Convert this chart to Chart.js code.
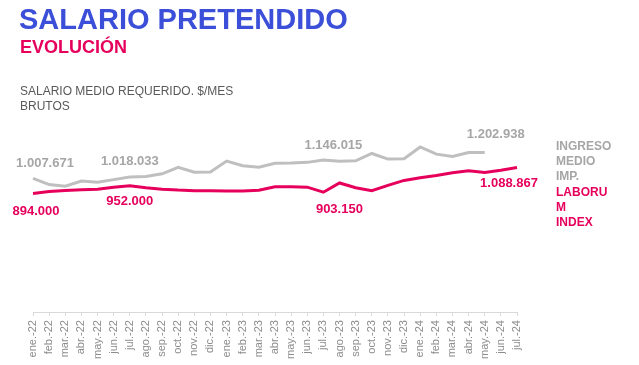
<!DOCTYPE html>
<html lang="es">
<head>
    <meta charset="UTF-8">
    <title>Salario pretendido</title>
    <style>
        body {
            margin: 0;
            background: #ffffff;
            font-family: "Liberation Sans", Arial, sans-serif;
        }
        #wrap {
            position: relative;
            width: 639px;
            height: 365px;
        }
        #chart {
            position: absolute;
            left: 0;
            top: 0;
        }
        .title {
            position: absolute;
            left: 19px;
            top: 3px;
            font-size: 29px;
            font-weight: bold;
            color: #3b4fd8;
        }
        .sub {
            position: absolute;
            left: 20px;
            top: 37px;
            font-size: 18px;
            font-weight: bold;
            color: #e6005c;
        }
        .note {
            position: absolute;
            left: 20px;
            top: 84px;
            font-size: 12px;
            line-height: 15px;
            color: #595959;
        }
        .leg {
            position: absolute;
            left: 556px;
            font-size: 12px;
            font-weight: bold;
            line-height: 15px;
        }
    </style>
</head>
<body>
<div id="wrap">
    <canvas id="chart" width="639" height="365"></canvas>
    <div class="title">SALARIO PRETENDIDO</div>
    <div class="sub">EVOLUCIÓN</div>
    <div class="note">SALARIO MEDIO REQUERIDO. $/MES<br>BRUTOS</div>
    <div class="leg" style="top:139px;color:#a6a6a6">INGRESO<br>MEDIO<br>IMP.</div>
    <div class="leg" style="top:185px;color:#e6005c">LABORU<br>M<br>INDEX</div>
</div>
<script src="https://cdn.jsdelivr.net/npm/chart.js@4.4.1/dist/chart.umd.min.js"></script>
<script>
    // meses ene.-22 .. jul.-24
    const months = ['ene.-22', 'feb.-22', 'mar.-22', 'abr.-22', 'may.-22', 'jun.-22', 'jul.-22', 'ago.-22', 'sep.-22', 'oct.-22', 'nov.-22', 'dic.-22',
        'ene.-23', 'feb.-23', 'mar.-23', 'abr.-23', 'may.-23', 'jun.-23', 'jul.-23', 'ago.-23', 'sep.-23', 'oct.-23', 'nov.-23', 'dic.-23',
        'ene.-24', 'feb.-24', 'mar.-24', 'abr.-24', 'may.-24', 'jun.-24', 'jul.-24'];

    // INGRESO MEDIO IMP. (gris)
    const ingresoMedio = [1007671, 961000, 948000, 988000, 978000, 998000, 1018033, 1022000, 1042000, 1091000, 1054000, 1056000,
        1138000, 1103000, 1091000, 1121000, 1123000, 1128000, 1146015, 1136000, 1140000, 1195000, 1153000, 1155000,
        1244000, 1190000, 1173000, 1202000, 1202938, null, null];

    // LABORUM INDEX (rosa)
    const laborumIndex = [894000, 909000, 916000, 921000, 926000, 941000, 952000, 936000, 926000, 919000, 915000, 914000,
        912000, 912000, 918000, 944000, 944000, 941000, 903150, 973000, 937000, 914000, 955000, 992000,
        1012000, 1029000, 1049000, 1064000, 1052000, 1069000, 1088867];

    const grayLine = '#bfbfbf';
    const grayText = '#a6a6a6';
    const pink = '#e6005c';

    // etiquetas de valores destacados: [serie, índice, texto, dx, dy]
    const callouts = [
        [0, 0, '1.007.671', 12, -15],
        [0, 6, '1.018.033', 0, -16],
        [0, 18, '1.146.015', 10, -15],
        [0, 28, '1.202.938', 11, -18],
        [1, 0, '894.000', 3, 18],
        [1, 6, '952.000', 0, 16],
        [1, 18, '903.150', 16, 17],
        [1, 30, '1.088.867', -8, 16]
    ];

    const calloutPlugin = {
        id: 'callouts',
        afterDatasetsDraw(chart) {
            const ctx = chart.ctx;
            ctx.save();
            ctx.font = 'bold 13px "Liberation Sans", Arial, sans-serif';
            ctx.textAlign = 'center';
            ctx.textBaseline = 'middle';
            callouts.forEach(c => {
                const pt = chart.getDatasetMeta(c[0]).data[c[1]];
                ctx.fillStyle = c[0] === 0 ? grayText : pink;
                ctx.fillText(c[2], pt.x + c[3], pt.y + c[4]);
            });
            ctx.restore();
        }
    };

    new Chart(document.getElementById('chart'), {
        type: 'line',
        data: {
            labels: months,
            datasets: [
                {
                    label: 'INGRESO MEDIO IMP.',
                    data: ingresoMedio,
                    borderColor: grayLine,
                    borderWidth: 3,
                    pointRadius: 0,
                    tension: 0
                },
                {
                    label: 'LABORUM INDEX',
                    data: laborumIndex,
                    borderColor: pink,
                    borderWidth: 3,
                    pointRadius: 0,
                    tension: 0
                }
            ]
        },
        options: {
            responsive: false,
            animation: false,
            layout: {
                padding: { left: 33, right: 122, top: 113, bottom: 2 }
            },
            plugins: {
                legend: { display: false },
                tooltip: { enabled: false }
            },
            scales: {
                x: {
                    grid: {
                        drawOnChartArea: false,
                        drawTicks: true,
                        tickLength: 4,
                        color: '#d9d9d9'
                    },
                    border: { color: '#d9d9d9' },
                    ticks: {
                        autoSkip: false,
                        minRotation: 90,
                        maxRotation: 90,
                        padding: 4,
                        color: '#8c8c8c',
                        font: { size: 11, family: '"Liberation Sans", Arial, sans-serif' }
                    }
                },
                y: {
                    display: false,
                    min: 0,
                    max: 1500000
                }
            }
        },
        plugins: [calloutPlugin]
    });
</script>
</body>
</html>
